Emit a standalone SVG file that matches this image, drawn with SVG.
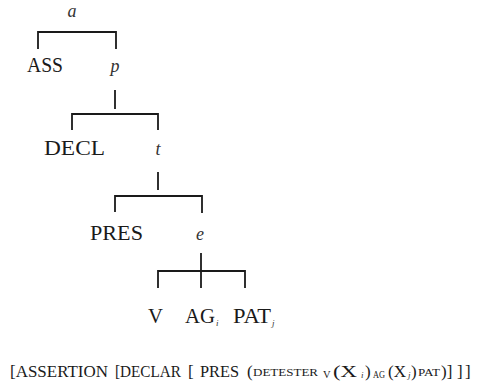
<svg xmlns="http://www.w3.org/2000/svg" width="477" height="385" viewBox="0 0 477 385">
<style>
.t{font-family:"Liberation Serif","Times New Roman",serif;font-size:21px;fill:#1a1a1a}
.it{font-style:italic;font-size:18px;fill:#333}
.sub{font-family:"Liberation Serif",serif;font-style:italic;font-size:9px;fill:#333}
.b{font-family:"Liberation Serif","Times New Roman",serif;font-size:17px;fill:#1a1a1a}
.sc{font-family:"Liberation Serif","Times New Roman",serif;font-size:10.5px;fill:#1a1a1a}
.c{fill:none;stroke:#1a1a1a;stroke-width:1.8}
</style>
<rect width="477" height="385" fill="#fff"/>
<g id="connectors">
<path class="c" d="M38,49 V32 H116 V49"/>
<path class="c" d="M115,90 V109"/>
<path class="c" d="M72,130 V114 H158 V130"/>
<path class="c" d="M158,172 V190"/>
<path class="c" d="M115,212 V196 H202 V213"/>
<path class="c" d="M201,253 V288"/>
<path class="c" d="M158,288 V271 H245 V288"/>
</g>
<g id="node-a"><text class="t it" x="72" y="17" text-anchor="middle">a</text></g>
<g id="node-ass"><text class="t" x="27" y="72" textLength="36" lengthAdjust="spacingAndGlyphs">ASS</text></g>
<g id="node-p"><text class="t it" x="115" y="72" text-anchor="middle">p</text></g>
<g id="node-decl"><text class="t" x="44" y="155" textLength="61" lengthAdjust="spacingAndGlyphs">DECL</text></g>
<g id="node-t"><text class="t it" x="158" y="155" text-anchor="middle">t</text></g>
<g id="node-pres"><text class="t" x="90" y="240" textLength="53" lengthAdjust="spacingAndGlyphs">PRES</text></g>
<g id="node-e"><text class="t it" x="200" y="240" text-anchor="middle">e</text></g>
<g id="node-v"><text class="t" x="148" y="323" textLength="15" lengthAdjust="spacingAndGlyphs">V</text></g>
<g id="node-ag"><text class="t" x="185" y="323" textLength="30" lengthAdjust="spacingAndGlyphs">AG</text><text class="sub" x="216" y="326">i</text></g>
<g id="node-pat"><text class="t" x="233" y="323" textLength="38" lengthAdjust="spacingAndGlyphs">PAT</text><text class="sub" x="272" y="326">j</text></g>
<g id="formula">
<text class="b" x="10" y="377" textLength="98" lengthAdjust="spacingAndGlyphs">[ASSERTION</text>
<text class="b" x="115" y="377" textLength="66" lengthAdjust="spacingAndGlyphs">[DECLAR</text>
<text class="b" x="188" y="377">[</text>
<text class="b" x="200" y="377" textLength="39" lengthAdjust="spacingAndGlyphs">PRES</text>
<text class="b" x="247" y="377">(</text>
<text class="sc" x="253" y="376" textLength="65" lengthAdjust="spacingAndGlyphs">DETESTER</text>
<text class="sc" x="323" y="378">V</text>
<text class="b" x="333" y="377" textLength="24" lengthAdjust="spacingAndGlyphs">(X</text>
<text class="sub" x="361" y="378">i</text>
<text class="b" x="365" y="377">)</text>
<text class="sc" x="373" y="378" textLength="12" lengthAdjust="spacingAndGlyphs">AG</text>
<text class="b" x="388" y="377" textLength="18" lengthAdjust="spacingAndGlyphs">(X</text>
<text class="sub" x="408" y="378">j</text>
<text class="b" x="411" y="377">)</text>
<text class="sc" x="418" y="376" textLength="22" lengthAdjust="spacingAndGlyphs">PAT</text>
<text class="b" x="441" y="377">)]</text>
<text class="b" x="457" y="377">]</text>
<text class="b" x="465" y="377">]</text>
</g>
</svg>
